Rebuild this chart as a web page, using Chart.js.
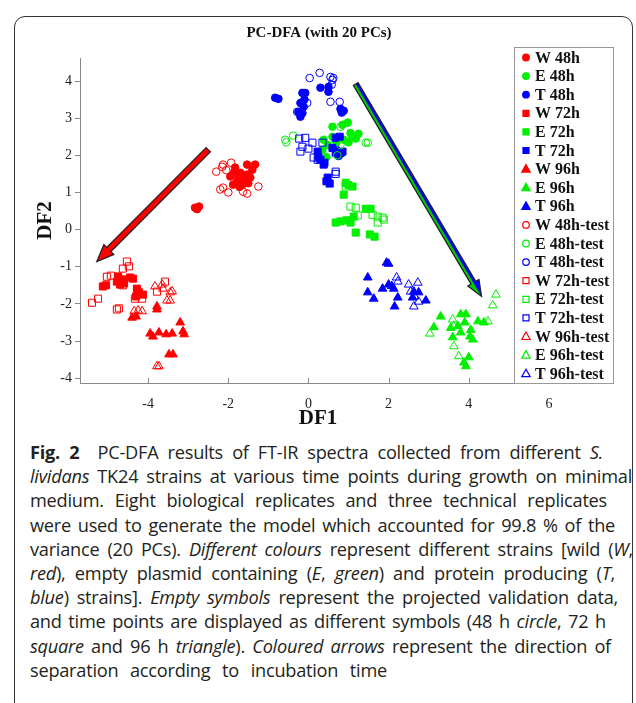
<!DOCTYPE html>
<html>
<head>
<meta charset="utf-8">
<script src="https://cdn.jsdelivr.net/npm/chart.js@4.4.1/dist/chart.umd.min.js"></script>
<style>
  body { margin: 0; background: #fff; width: 636px; height: 703px; overflow: hidden; position: relative; }
  #frame { position: absolute; left: 14px; top: 16px; width: 617px; height: 740px; border: 1.2px solid #333; border-radius: 11px; }
  #wrap { position: absolute; left: 0; top: 0; width: 636px; height: 432px; }
  #caption { position: absolute; left: 30px; top: 440px; font-family: "Open Sans"; font-size: 18.2px; line-height: 24.2px; color: #231f20; white-space: nowrap; letter-spacing: -0.25px; }
  #caption div { text-align: justify; text-align-last: justify; white-space: nowrap; }
</style>
</head>
<body>
<div id="frame"></div>
<div id="wrap"><canvas id="myChart"></canvas></div>
<div id="caption">
<div style="width:573px"><b>Fig. 2</b>&nbsp; PC-DFA results of FT-IR spectra collected from different <i>S.</i></div>
<div style="width:602px"><i>lividans</i> TK24 strains at various time points during growth on minimal</div>
<div style="width:577px">medium. Eight biological replicates and three technical replicates</div>
<div style="width:585px">were used to generate the model which accounted for 99.8 % of the</div>
<div style="width:603px">variance (20 PCs). <i>Different colours</i> represent different strains [wild (<i>W</i>,</div>
<div style="width:585px"><i>red</i>), empty plasmid containing (<i>E</i>, <i>green</i>) and protein producing (<i>T</i>,</div>
<div style="width:588px"><i>blue</i>) strains]. <i>Empty symbols</i> represent the projected validation data,</div>
<div style="width:576px">and time points are displayed as different symbols (48 h <i>circle</i>, 72 h</div>
<div style="width:581px"><i>square</i> and 96 h <i>triangle</i>). <i>Coloured arrows</i> represent the direction of</div>
<div style="width:357px">separation according to incubation time</div>
</div>
<script>
// axis ticks
const xTicks = [-4, -2, 0, 2, 4, 6];
const yTicks = [-4, -3, -2, -1, 0, 1, 2, 3, 4];

// legend labels (same order as the series below)
const labels = ['W 48h', 'E 48h', 'T 48h', 'W 72h', 'E 72h', 'T 72h', 'W 96h', 'E 96h', 'T 96h',
  'W 48h-test', 'E 48h-test', 'T 48h-test', 'W 72h-test', 'E 72h-test', 'T 72h-test',
  'W 96h-test', 'E 96h-test', 'T 96h-test'];

// training data [DF1, DF2]
const w48 = [[-1.53,1.75],[-1.33,1.75],[-1.83,1.67],[-1.95,1.43],[-1.78,1.29],[-1.65,1.21],[-1.53,1.48],[-1.45,1.40],
  [-1.7,1.53],[-1.88,1.21],[-1.4,1.61],[-1.6,1.35],[-1.75,1.42],[-1.85,1.55],[-1.5,1.25],[-1.72,1.15],
  [-2.83,0.59],[-2.73,0.62],[-2.78,0.55]];
const e48 = [[0.6,2.77],[0.85,2.82],[0.98,2.88],[1.1,2.5],[1.25,2.58],[1.18,2.45],[0.38,2.42],[0.48,2.28],
  [0.88,2.42],[0.6,2.5],[0.35,2.15],[0.45,1.95],[0.7,2.35],[1.0,2.35],[1.05,2.6]];
const t48 = [[-0.83,3.55],[-0.75,3.52],[-0.15,3.68],[-0.08,3.68],[-0.2,3.41],[-0.12,3.31],[-0.25,3.17],[-0.15,3.14],
  [-0.2,3.04],[-0.1,3.5],[0.3,3.82],[0.5,3.84],[0.5,3.71],[0.8,3.25],[0.88,3.2],[0.83,3.15],
  [0.7,2.15],[0.82,2.05],[0.75,1.98]];
const w72 = [[-5.13,-1.53],[-4.75,-1.26],[-4.78,-1.4],[-4.65,-1.34],[-4.7,-1.48],[-4.45,-1.29],[-4.38,-1.32],
  [-4.28,-1.59],[-4.23,-1.69],[-4.3,-1.8],[-4.13,-1.75],[-4.6,-1.45],[-5.05,-1.5]];
const e72 = [[0.93,1.26],[1.1,1.16],[0.88,0.94],[0.68,0.19],[0.8,0.22],[1.05,0.19],[1.13,0.35],[1.18,-0.08],
  [1.43,0.56],[1.55,0.56],[1.53,-0.13],[1.65,-0.19],[0.95,0.25],[1.0,1.2]];
const t72 = [[0.68,2.47],[0.78,2.5],[0.6,2.2],[0.68,2.07],[0.75,2.02],[0.23,2.1],[0.3,1.88],[0.38,1.75],
  [0.48,1.4],[0.53,1.24],[0.85,2.1],[0.25,1.95],[0.4,1.8],[0.45,1.3]];
const w96 = [[-4.4,-2.37],[-4.3,-2.34],[-3.78,-2.07],[-3.78,-2.15],[-3.95,-2.8],[-3.88,-2.88],[-3.73,-2.77],
  [-3.55,-2.82],[-3.4,-2.8],[-3.2,-2.5],[-3.13,-2.74],[-3.1,-2.82],[-3.48,-3.36],[-3.38,-3.36]];
const e96 = [[3.3,-2.34],[3.13,-2.63],[3.8,-2.28],[3.93,-2.28],[3.73,-2.6],[3.8,-2.77],[3.6,-2.9],[4.03,-2.88],
  [4.23,-2.47],[4.38,-2.5],[4.0,-3.44],[3.88,-3.58],[3.93,-3.68],[4.1,-2.96],[3.9,-2.5],[4.05,-2.7],[3.55,-2.65]];
const t96 = [[1.95,-0.89],[2.0,-0.92],[1.48,-1.29],[1.48,-1.69],[1.63,-1.86],[1.85,-1.59],[2.0,-1.48],[2.08,-1.52],
  [2.13,-1.59],[2.23,-1.83],[2.15,-2.07],[2.63,-1.67],[2.75,-1.69],[2.93,-1.91],[2.6,-1.83]];

// projected validation data
const w48Test = [[-2.3,1.56],[-2.13,1.75],[-1.93,1.8],[-2.13,1.13],[-2.0,1.0],[-2.2,1.08],[-1.63,1.02],
  [-1.53,0.97],[-1.25,1.16],[-2.15,1.69],[-2.05,1.6]];
const e48Test = [[-0.58,2.42],[-0.38,2.53],[-0.55,2.35],[0.8,2.77],[1.43,2.34],[1.48,2.34],[0.8,2.28],[0.72,2.0]];
const t48Test = [[0.03,4.08],[0.28,4.22],[0.55,4.11],[0.6,4.03],[0.62,4.08],[0.55,3.44],[0.78,3.44],
  [-0.03,3.41],[-0.28,3.17],[0.58,3.9]];
const w72Test = [[-5.4,-1.97],[-5.25,-1.86],[-5.03,-1.27],[-4.93,-1.24],[-4.63,-1.05],[-4.53,-0.86],[-4.48,-0.99],
  [-4.78,-2.15],[-4.73,-2.12],[-4.33,-1.86],[-4.15,-1.86],[-4.63,-1.5],[-3.58,-1.4],[-3.78,-1.67]];
const e72Test = [[0.93,1.16],[1.05,0.62],[1.18,0.59],[1.23,0.38],[1.6,0.4],[1.73,0.35],[1.85,0.32],[1.88,0.27],[1.73,0.19]];
const t72Test = [[-0.23,2.45],[-0.08,2.47],[0.1,2.34],[-0.15,2.23],[0,2.18],[0.35,2.34],[0.13,1.94],[0.23,1.88],
  [0.68,1.56],[0.68,1.5],[-0.2,2.1]];
const w96Test = [[-3.83,-1.53],[-3.65,-1.48],[-3.63,-1.59],[-3.45,-1.69],[-3.4,-1.66],[-3.53,-1.91],[-3.45,-1.91],
  [-4.35,-2.2],[-4.25,-2.18],[-4.15,-2.2],[-3.78,-3.68],[-3.73,-3.68]];
const e96Test = [[4.68,-1.75],[4.6,-2.04],[4.48,-2.47],[3.6,-2.42],[3.63,-2.6],[3.03,-2.8],[3.63,-3.14],[3.75,-3.41]];
const t96Test = [[2.2,-1.29],[2.23,-1.4],[2.5,-1.48],[2.73,-1.43],[2.55,-1.67],[2.65,-1.8],[2.63,-2.07],[2.75,-1.94]];

// arrows (data units)
const redArrowFrom = [-2.5, 2.15];
const redArrowTo = [-5.28, -0.86];
const gbArrowFrom = [1.18, 3.92];
const gbArrowTo = [4.32, -1.8];

const seriesData = [w48, e48, t48, w72, e72, t72, w96, e96, t96,
  w48Test, e48Test, t48Test, w72Test, e72Test, t72Test, w96Test, e96Test, t96Test];
const strainColors = ['#ff0000', '#00f000', '#0000ff'];
const shapes = ['circle', 'rect', 'triangle'];
const sizes = { circle: 3.8, rect: 5, triangle: 5 };

const datasets = seriesData.map((pts, i) => {
  const test = i >= 9;
  const k = i % 9;
  const color = strainColors[k % 3];
  const shape = shapes[Math.floor(k / 3)];
  return {
    label: labels[i],
    data: pts.map(p => ({ x: p[0], y: p[1] })),
    pointStyle: shape,
    pointRadius: sizes[shape],
    pointHoverRadius: sizes[shape],
    borderWidth: 1,
    borderColor: color,
    backgroundColor: test ? 'rgba(0,0,0,0)' : color,
    order: 18 - i
  };
});

// small marker for the legend
function marker(ctx, shape, x, y, color, open) {
  ctx.save();
  ctx.beginPath();
  if (shape === 'circle') {
    ctx.arc(x, y, 3.3, 0, Math.PI * 2);
  } else if (shape === 'rect') {
    ctx.rect(x - 3, y - 3, 6, 6);
  } else {
    ctx.moveTo(x, y - 4.5);
    ctx.lineTo(x + 4.2, y + 3);
    ctx.lineTo(x - 4.2, y + 3);
    ctx.closePath();
  }
  ctx.lineWidth = 1.2;
  ctx.strokeStyle = color;
  if (!open) { ctx.fillStyle = color; ctx.fill(); }
  ctx.stroke();
  ctx.restore();
}

function arrowPath(ctx, x1, y1, x2, y2, w, headLen, headW, half) {
  const ang = Math.atan2(y2 - y1, x2 - x1);
  const len = Math.hypot(x2 - x1, y2 - y1);
  ctx.save();
  ctx.translate(x1, y1);
  ctx.rotate(ang);
  ctx.beginPath();
  if (half) {
    // right half only (positive y in rotated frame)
    ctx.moveTo(0, 0);
    ctx.lineTo(len, 0);
    ctx.lineTo(len - headLen, headW);
    ctx.lineTo(len - headLen, w / 2);
    ctx.lineTo(0, w / 2);
  } else {
    ctx.moveTo(0, -w / 2);
    ctx.lineTo(len - headLen, -w / 2);
    ctx.lineTo(len - headLen, -headW);
    ctx.lineTo(len, 0);
    ctx.lineTo(len - headLen, headW);
    ctx.lineTo(len - headLen, w / 2);
    ctx.lineTo(0, w / 2);
  }
  ctx.closePath();
  ctx.restore();
}

const decorations = {
  id: 'decorations',
  beforeDatasetsDraw(chart) {
    const { ctx, scales: { x, y } } = chart;
    // inward ticks on x axis
    ctx.save();
    ctx.strokeStyle = '#888';
    ctx.lineWidth = 1;
    xTicks.forEach(v => {
      const px = Math.round(x.getPixelForValue(v)) + 0.5;
      ctx.beginPath();
      ctx.moveTo(px, y.bottom);
      ctx.lineTo(px, y.bottom - 5);
      ctx.stroke();
    });
    ctx.restore();
  },
  afterDatasetsDraw(chart) {
    const { ctx, chartArea, scales: { x, y } } = chart;
    // red arrow
    let a = [x.getPixelForValue(redArrowFrom[0]), y.getPixelForValue(redArrowFrom[1]),
      x.getPixelForValue(redArrowTo[0]), y.getPixelForValue(redArrowTo[1])];
    ctx.save();
    arrowPath(ctx, a[0], a[1], a[2], a[3], 6, 17, 7, false);
    ctx.fillStyle = '#ff0000';
    ctx.fill();
    ctx.lineWidth = 1.3;
    ctx.strokeStyle = '#222';
    ctx.stroke();
    // blue / green arrow
    a = [x.getPixelForValue(gbArrowFrom[0]), y.getPixelForValue(gbArrowFrom[1]),
      x.getPixelForValue(gbArrowTo[0]), y.getPixelForValue(gbArrowTo[1])];
    arrowPath(ctx, a[0], a[1], a[2], a[3], 5.5, 16, 6.5, false);
    ctx.fillStyle = '#0000ff';
    ctx.fill();
    arrowPath(ctx, a[0], a[1], a[2], a[3], 5.5, 16, 6.5, true);
    ctx.fillStyle = '#00cc00';
    ctx.fill();
    arrowPath(ctx, a[0], a[1], a[2], a[3], 5.5, 16, 6.5, false);
    ctx.lineWidth = 1.2;
    ctx.strokeStyle = '#222';
    ctx.stroke();
    ctx.restore();

    // legend box
    ctx.save();
    ctx.fillStyle = '#fff';
    ctx.fillRect(514, 47, 99, 336);
    ctx.strokeStyle = '#999';
    ctx.lineWidth = 1;
    ctx.strokeRect(514.5, 47.5, 99, 336);
    ctx.font = 'bold 16px "Liberation Serif"';
    ctx.textBaseline = 'middle';
    labels.forEach((lab, i) => {
      const k = i % 9;
      const ly = 57.5 + i * 18.6;
      marker(ctx, shapes[Math.floor(k / 3)], 526, ly, strainColors[k % 3], i >= 9);
      ctx.fillStyle = '#111';
      ctx.fillText(lab, 535, ly + 1);
    });
    ctx.restore();

    // titles
    ctx.save();
    ctx.fillStyle = '#111';
    ctx.textAlign = 'center';
    ctx.textBaseline = 'middle';
    ctx.font = 'bold 15px "Liberation Serif"';
    ctx.fillText('PC-DFA (with 20 PCs)', 319, 33);
    ctx.font = 'bold 21px "Liberation Serif"';
    ctx.fillText('DF1', 318, 419);
    ctx.translate(46, (chartArea.top + chartArea.bottom) / 2);
    ctx.rotate(-Math.PI / 2);
    ctx.fillText('DF2', 0, 0);
    ctx.restore();
  }
};

const chart = new Chart(document.getElementById('myChart'), {
  type: 'scatter',
  data: { datasets: datasets },
  options: {
    responsive: true,
    maintainAspectRatio: false,
    animation: false,
    layout: { padding: { top: 58, right: 23, left: 0, bottom: 0 } },
    plugins: { legend: { display: false }, tooltip: { enabled: false }, title: { display: false } },
    scales: {
      x: {
        min: -5.7,
        max: 7.6,
        afterFit: s => { s.height = 49; },
        afterBuildTicks: s => { s.ticks = xTicks.map(v => ({ value: v })); },
        grid: { display: false },
        border: { display: true, color: '#888', width: 1 },
        ticks: { color: '#222', padding: 5, maxRotation: 0, font: { family: 'Liberation Serif', size: 14 } }
      },
      y: {
        min: -4.13,
        max: 4.62,
        afterFit: s => { s.width = 80; },
        afterBuildTicks: s => { s.ticks = yTicks.map(v => ({ value: v })); },
        grid: { display: true, drawOnChartArea: false, drawTicks: true, tickLength: 5, color: '#888' },
        border: { display: true, color: '#888', width: 1 },
        ticks: { color: '#222', padding: 3, font: { family: 'Liberation Serif', size: 14 } }
      }
    }
  },
  plugins: [decorations]
});
</script>
</body>
</html>
